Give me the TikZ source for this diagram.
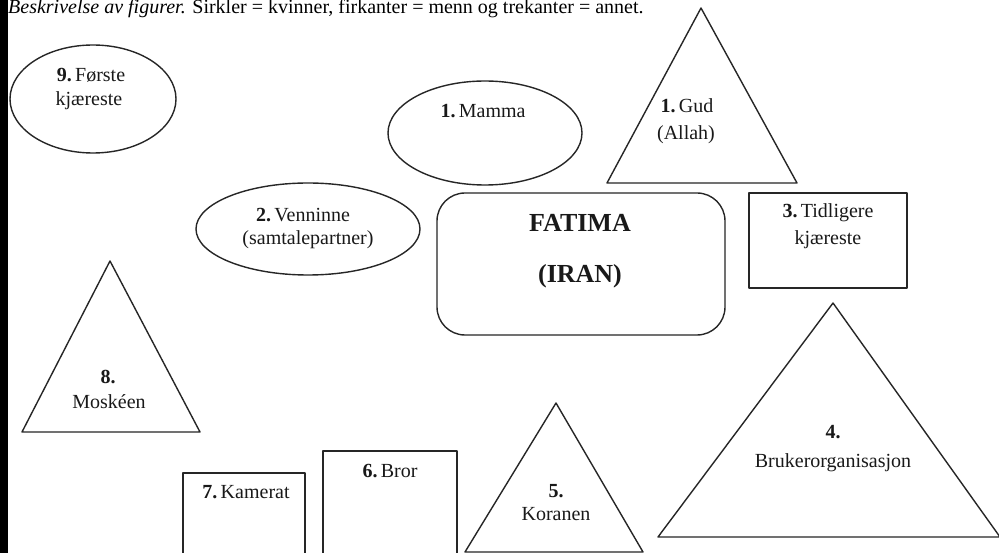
\documentclass[tikz,border=0pt]{standalone}
\usepackage{fontspec}
\setmainfont{Liberation Serif}
\tikzset{
  shapeline/.style={draw=black!85, line width=1.4pt, line join=round},
  lbl/.style={anchor=base, inner sep=0pt, font=\fontsize{20}{22}\selectfont, text=black!90},
  bigbl/.style={anchor=base, inner sep=0pt, font=\fontsize{26}{28}\selectfont\bfseries, text=black!90},
}
\begin{document}
\begin{tikzpicture}[x=1pt,y=-1pt]
  \useasboundingbox (0,0) rectangle (999,553);
  \fill[white] (0,0) rectangle (999,553);
  % black margin strip on the left
  \fill[black] (0,0) rectangle (8,553);

  % caption line
  \node[anchor=base west, inner sep=0pt, font=\fontsize{20}{22}\selectfont] (caption) at (8,14)
    {\textit{Beskrivelse av figurer.} Sirkler = kvinner, firkanter = menn og trekanter = annet.};

  \begin{scope}
  \clip (0,0) rectangle (999,553);
  % circles (women)
  \draw[shapeline] (93,99) ellipse [x radius=83, y radius=54];
  \draw[shapeline] (485,133) ellipse [x radius=97, y radius=52];
  \draw[shapeline] (308,229) ellipse [x radius=112, y radius=46];

  % centre person
  \draw[shapeline, rounded corners=28pt] (437,193) rectangle (725,335);

  % squares (men)
  \draw[shapeline] (749,193) rectangle (907,288);
  \draw[shapeline] (183,473) rectangle (305,570);
  \draw[shapeline] (323,451) rectangle (457,570);

  % triangles (other)
  \draw[shapeline] (701,8) -- (797,183) -- (607,183) -- cycle;
  \draw[shapeline] (110,261) -- (200,432) -- (22,432) -- cycle;
  \draw[shapeline] (833,303) -- (1000,537) -- (658,537) -- cycle;
  \draw[shapeline] (556,403) -- (643,552) -- (465,552) -- cycle;
  \end{scope}

  % labels
  \node[lbl] (n9a) at (91,82) {\textbf{9.}\,Første};
  \node[lbl] (n9b) at (89,106) {kjæreste};
  \node[lbl] (n1m) at (483,118) {\textbf{1.}\,Mamma};
  \node[lbl] (n1ga) at (687,113) {\textbf{1.}\,Gud};
  \node[lbl] (n1gb) at (686,140) {(Allah)};
  \node[lbl] (n2a) at (303,222) {\textbf{2.}\,Venninne};
  \node[lbl] (n2b) at (308,245) {(samtalepartner)};
  \node[bigbl] (fa) at (580,232) {FATIMA};
  \node[bigbl] (fb) at (580,283) {(IRAN)};
  \node[lbl] (n3a) at (828,218) {\textbf{3.}\,Tidligere};
  \node[lbl] (n3b) at (828,245) {kjæreste};
  \node[lbl] (n8a) at (108,383) {\textbf{8.}};
  \node[lbl] (n8b) at (109,408) {Moskéen};
  \node[lbl] (n4a) at (833,438) {\textbf{4.}};
  \node[lbl] (n4b) at (833,467) {Brukerorganisasjon};
  \node[lbl] (n7) at (246,498) {\textbf{7.}\,Kamerat};
  \node[lbl] (n6) at (390,477) {\textbf{6.}\,Bror};
  \node[lbl] (n5a) at (556,497) {\textbf{5.}};
  \node[lbl] (n5b) at (556,520) {Koranen};
\end{tikzpicture}
\end{document}
